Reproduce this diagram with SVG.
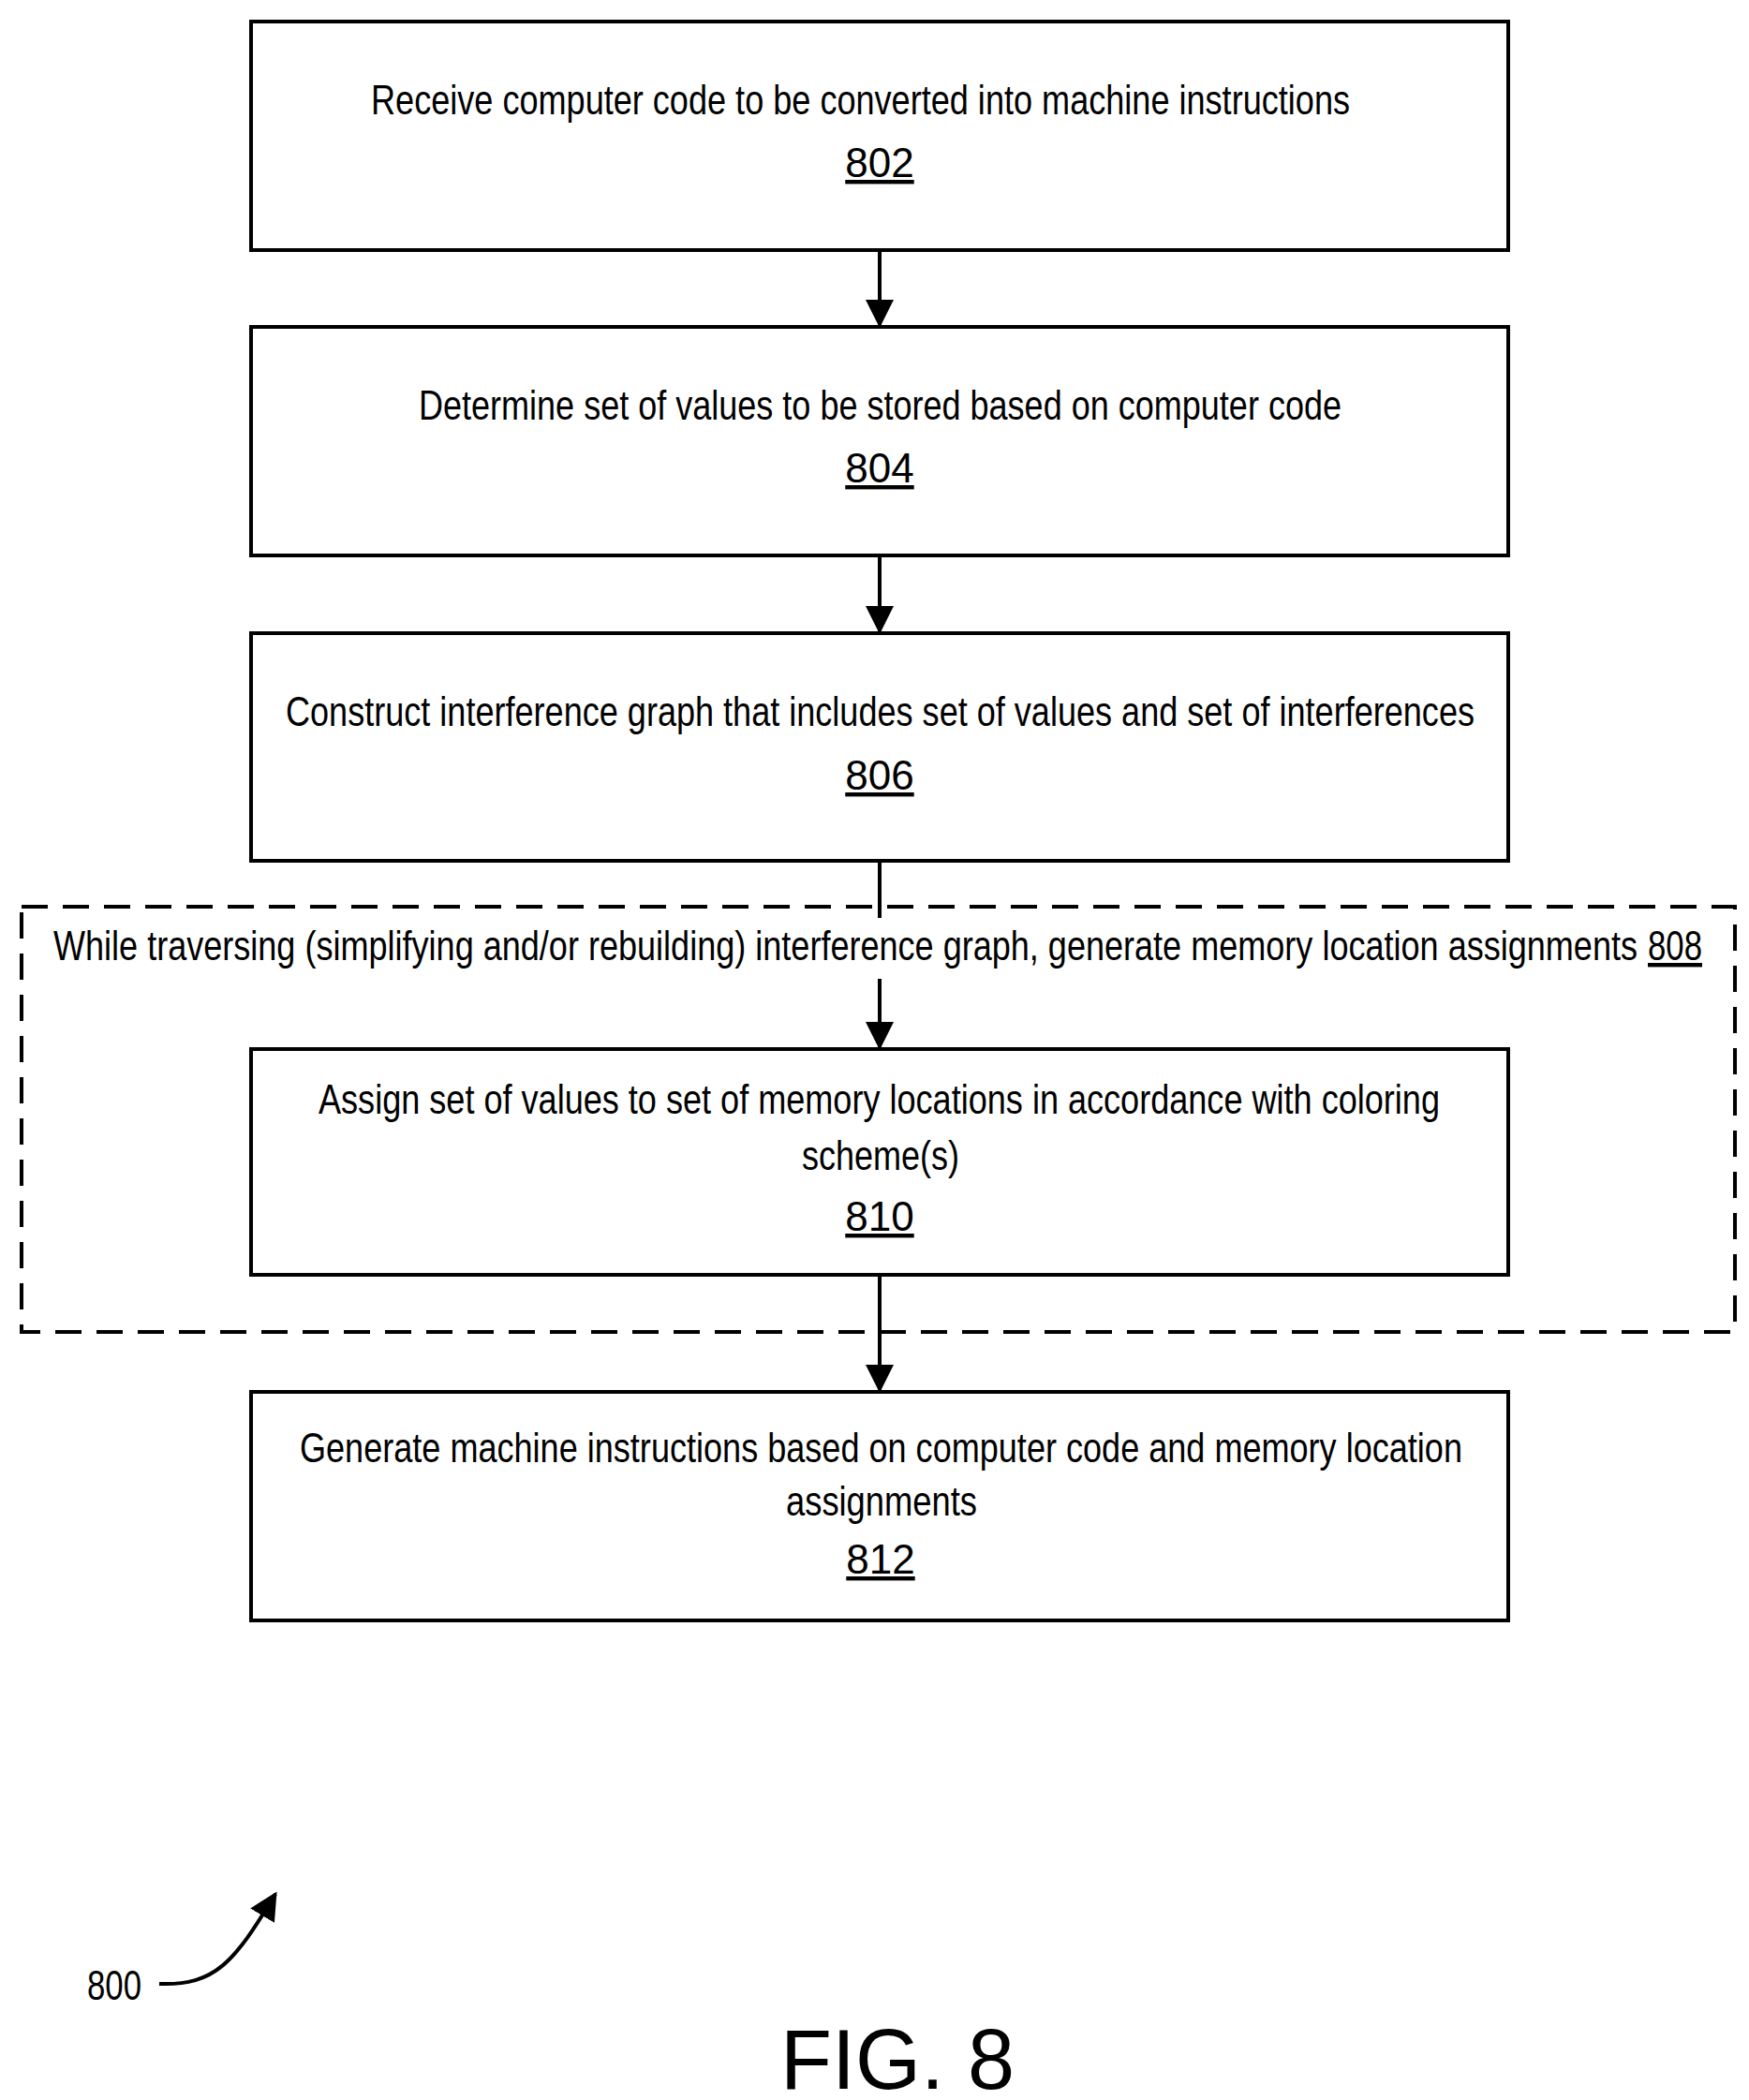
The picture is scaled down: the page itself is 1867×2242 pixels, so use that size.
<svg xmlns="http://www.w3.org/2000/svg" width="1867" height="2242" viewBox="0 0 1867 2242">
<style>
.b{fill:#fff;stroke:#000;stroke-width:4}
.t{font-family:"Liberation Sans",Arial,sans-serif;font-size:44px;fill:#000}
.n{text-decoration:underline}
.c{stroke:#000;stroke-width:4;fill:none}
</style>
<defs><marker id="a" markerWidth="10" markerHeight="10" refX="9" refY="5" orient="auto" markerUnits="userSpaceOnUse" viewBox="0 0 10 10"><path d="M0,0L10,5L0,10z"/></marker>
<marker id="ah" viewBox="0 0 10 10" refX="9" refY="5" markerWidth="30" markerHeight="30" markerUnits="userSpaceOnUse" orient="auto"><path d="M0,0L10,5L0,10z"/></marker></defs>
<rect width="1867" height="2242" fill="#fff"/>
<g id="n808"><rect x="23" y="968" width="1829" height="454" fill="none" stroke="#000" stroke-width="4" stroke-dasharray="28,16"/>
<text class="t" x="57" y="1025" textLength="1691" lengthAdjust="spacingAndGlyphs">While traversing (simplifying and/or rebuilding) interference graph, generate memory location assignments</text>
<text class="t n" x="1759" y="1025" textLength="58" lengthAdjust="spacingAndGlyphs">808</text></g>
<g id="connectors">
<line class="c" x1="939" y1="267" x2="939" y2="347" marker-end="url(#ah)"/>
<line class="c" x1="939" y1="593" x2="939" y2="674" marker-end="url(#ah)"/>
<line class="c" x1="939" y1="919" x2="939" y2="980"/>
<line class="c" x1="939" y1="1045" x2="939" y2="1118" marker-end="url(#ah)"/>
<line class="c" x1="939" y1="1361" x2="939" y2="1484" marker-end="url(#ah)"/>
<path class="c" d="M170,2118 C230,2120 250,2095 294,2022" marker-end="url(#ah)"/>
</g>
<g id="n802"><rect class="b" x="268" y="23" width="1342" height="244"/>
<text class="t" x="396" y="122" textLength="1045" lengthAdjust="spacingAndGlyphs">Receive computer code to be converted into machine instructions</text>
<text class="t n" x="939" y="189" text-anchor="middle">802</text></g>
<g id="n804"><rect class="b" x="268" y="349" width="1342" height="244"/>
<text class="t" x="447" y="448" textLength="985" lengthAdjust="spacingAndGlyphs">Determine set of values to be stored based on computer code</text>
<text class="t n" x="939" y="515" text-anchor="middle">804</text></g>
<g id="n806"><rect class="b" x="268" y="676" width="1342" height="243"/>
<text class="t" x="305" y="775" textLength="1269" lengthAdjust="spacingAndGlyphs">Construct interference graph that includes set of values and set of interferences</text>
<text class="t n" x="939" y="843" text-anchor="middle">806</text></g>
<g id="n810"><rect class="b" x="268" y="1120" width="1342" height="241"/>
<text class="t" x="340" y="1189" textLength="1197" lengthAdjust="spacingAndGlyphs">Assign set of values to set of memory locations in accordance with coloring</text>
<text class="t" x="856" y="1249" textLength="168" lengthAdjust="spacingAndGlyphs">scheme(s)</text>
<text class="t n" x="939" y="1314" text-anchor="middle">810</text></g>
<g id="n812"><rect class="b" x="268" y="1486" width="1342" height="244"/>
<text class="t" x="320" y="1561" textLength="1241" lengthAdjust="spacingAndGlyphs">Generate machine instructions based on computer code and memory location</text>
<text class="t" x="839" y="1618" textLength="204" lengthAdjust="spacingAndGlyphs">assignments</text>
<text class="t n" x="940" y="1680" text-anchor="middle">812</text></g>
<text class="t" x="93" y="2135" textLength="58" lengthAdjust="spacingAndGlyphs">800</text>
<text x="958" y="2230" text-anchor="middle" style="font-family:'Liberation Sans',Arial,sans-serif;font-size:90px">FIG. 8</text>
</svg>
